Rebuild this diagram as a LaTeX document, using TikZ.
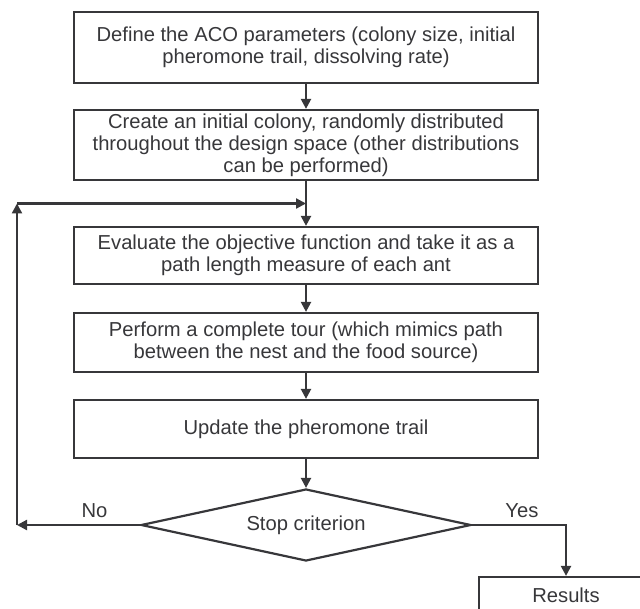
\documentclass[tikz,border=0pt]{standalone}
\usepackage{fontspec}
\setmainfont{Liberation Sans}
\usetikzlibrary{positioning, calc, shapes.geometric, arrows.meta}
\definecolor{linegray}{RGB}{55,55,58}

\begin{document}
\begin{tikzpicture}[>={Triangle[length=5pt,width=5pt]}, x=1pt, y=1pt, node distance=12.4pt, color=linegray, line width=1.1pt, font=\fontsize{10.1}{10.9}\selectfont,
  block/.style={rectangle, draw, minimum width=232pt, align=center, inner sep=0pt},
  decision/.style={diamond, draw, minimum width=165pt, minimum height=36pt, aspect=4.6, inner sep=0pt}]

  \useasboundingbox (0,0) rectangle (320,-304);
  \clip (0,0) rectangle (320,-304);

  \node[block, minimum height=35.5pt] (b1) at (153,-23.75) {Define the ACO parameters (colony size, initial\\pheromone trail, dissolving rate)};
  \node[block, minimum height=35pt]   (b2) [below=of b1]       {Create an initial colony, randomly distributed\\throughout the design space (other distributions\\can be performed)};
  \node[block, minimum height=28.5pt] (b3) [below=22.4pt of b2] {Evaluate the objective function and take it as a\\path length measure of each ant};
  \node[block, minimum height=29.5pt] (b4) [below=13.4pt of b3] {Perform a complete tour (which mimics path\\between the nest and the food source)};
  \node[block, minimum height=29pt]   (b5) [below=12.9pt of b4] {Update the pheromone trail};
  \node[decision]                     (stop) [below=14.4pt of b5] {Stop criterion};
  \node[block, minimum width=87pt, minimum height=18pt] (res) at (283,-297.5) {Results};

  \coordinate (join) at ($(b2.south)!0.5!(b3.north)$);
  \coordinate (loopcorner) at ($(join)+(-144.5,0)$);
  \coordinate (nocorner) at (loopcorner |- stop.west);

  \draw[->] (b1) -- (b2);
  \draw[->] (b2) -- (b3);
  \draw[->] (b3) -- (b4);
  \draw[->] (b4) -- (b5);
  \draw[->] (b5) -- (stop);
  \draw[->] (stop.west) -- node[above, pos=0.37] {No} (nocorner);
  \draw[->] (nocorner) -- (loopcorner);
  \draw[->] (loopcorner) -- (join);
  \draw[->] (stop.east) -| node[above, pos=0.265] {Yes} (res.north);

\end{tikzpicture}
\end{document}
